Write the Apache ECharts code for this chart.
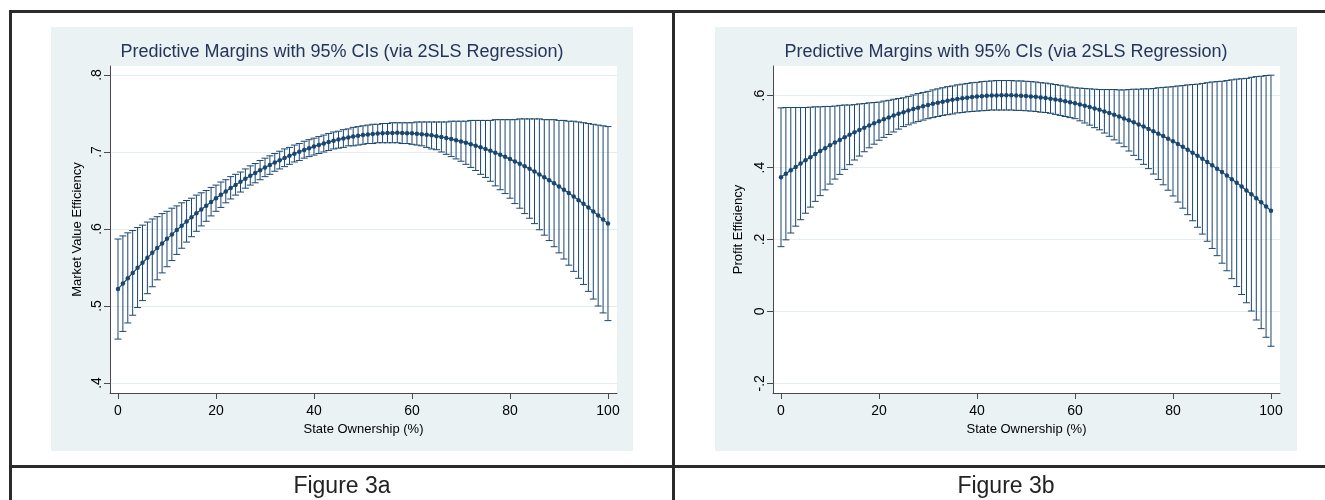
<!DOCTYPE html>
<html>
<head>
<meta charset="utf-8">
<script src="https://cdn.jsdelivr.net/npm/echarts@6/dist/echarts.min.js"></script>
<style>
  html, body { margin: 0; padding: 0; background: #fff; }
  #view { width: 1325px; height: 500px; }
</style>
</head>
<body>
<div id="view"></div>
<script>
var myChart = echarts.init(document.getElementById('view'));

/* state ownership (%) : the 101 points of the margins */
var ownership = [
  0, 1, 2, 3, 4, 5, 6, 7, 8, 9,
  10, 11, 12, 13, 14, 15, 16, 17, 18, 19,
  20, 21, 22, 23, 24, 25, 26, 27, 28, 29,
  30, 31, 32, 33, 34, 35, 36, 37, 38, 39,
  40, 41, 42, 43, 44, 45, 46, 47, 48, 49,
  50, 51, 52, 53, 54, 55, 56, 57, 58, 59,
  60, 61, 62, 63, 64, 65, 66, 67, 68, 69,
  70, 71, 72, 73, 74, 75, 76, 77, 78, 79,
  80, 81, 82, 83, 84, 85, 86, 87, 88, 89,
  90, 91, 92, 93, 94, 95, 96, 97, 98, 99,
  100
];

/* Figure 3a : market value efficiency */
var mveMean = [
  .522, .5291, .536, .5429, .5496, .5562, .5626, .569, .5752, .5812,
  .5872, .593, .5987, .6043, .6098, .6151, .6203, .6253, .6303, .6351,
  .6398, .6444, .6488, .6531, .6573, .6614, .6653, .6691, .6728, .6764,
  .6798, .6831, .6863, .6893, .6923, .6951, .6978, .7003, .7027, .705,
  .7072, .7092, .7112, .713, .7146, .7162, .7176, .7189, .72, .7211,
  .722, .7228, .7234, .724, .7244, .7247, .7248, .7249, .7248, .7245,
  .7242, .7237, .7231, .7224, .7216, .7206, .7195, .7182, .7169, .7154,
  .7138, .7121, .7102, .7082, .7061, .7039, .7015, .699, .6964, .6937,
  .6908, .6878, .6847, .6814, .6781, .6746, .6709, .6672, .6633, .6593,
  .6552, .6509, .6466, .6421, .6374, .6327, .6278, .6228, .6176, .6124,
  .607
];
var mveLow = [
  .457, .467, .478, .488, .498, .507, .516, .525, .534, .543,
  .551, .559, .567, .575, .583, .590, .597, .604, .610, .617,
  .623, .628, .634, .639, .644, .648, .653, .657, .660, .664,
  .668, .671, .675, .678, .681, .684, .687, .689, .692, .694,
  .696, .698, .700, .702, .704, .705, .706, .708, .708, .709,
  .710, .711, .711, .712, .712, .712, .712, .712, .711, .711,
  .710, .709, .708, .706, .704, .703, .700, .697, .694, .691,
  .688, .684, .680, .676, .671, .667, .662, .656, .651, .646,
  .640, .633, .627, .620, .614, .607, .599, .592, .585, .577,
  .569, .561, .553, .545, .536, .528, .519, .509, .500, .491,
  .481
];
var mveHigh = [
  .587, .591, .595, .598, .602, .605, .609, .613, .616, .620,
  .623, .627, .630, .634, .637, .640, .644, .647, .650, .654,
  .657, .661, .664, .668, .671, .674, .678, .682, .685, .689,
  .692, .695, .698, .701, .704, .706, .709, .711, .714, .716,
  .718, .720, .722, .724, .726, .727, .729, .730, .732, .733,
  .734, .735, .736, .736, .737, .737, .738, .738, .738, .738,
  .738, .739, .739, .739, .739, .739, .739, .739, .740, .740,
  .740, .740, .741, .741, .741, .741, .741, .742, .742, .742,
  .742, .742, .743, .743, .743, .743, .743, .742, .742, .742,
  .741, .741, .740, .740, .739, .738, .737, .736, .735, .734,
  .733
];

/* Figure 3b : profit efficiency */
var peMean = [
  .373, .3829, .3925, .4019, .4111, .4201, .4289, .4374, .4458, .4539,
  .4618, .4695, .4769, .4842, .4912, .498, .5046, .511, .5171, .5231,
  .5288, .5343, .5396, .5446, .5495, .5541, .5585, .5627, .5667, .5705,
  .574, .5773, .5804, .5833, .586, .5884, .5907, .5927, .5945, .596,
  .5974, .5985, .5995, .6002, .6007, .6009, .601, .6008, .6004, .5998,
  .599, .598, .5967, .5952, .5935, .5916, .5895, .5871, .5846, .5818,
  .5788, .5756, .5721, .5685, .5646, .5605, .5562, .5517, .5469, .542,
  .5368, .5314, .5258, .5199, .5139, .5076, .5011, .4944, .4875, .4804,
  .473, .4654, .4576, .4496, .4414, .4329, .4243, .4154, .4063, .3969,
  .3874, .3776, .3677, .3575, .3471, .3364, .3256, .3145, .3032, .2917,
  .28
];
var peLow = [
  .180, .199, .218, .237, .255, .273, .290, .306, .322, .338,
  .354, .368, .381, .395, .408, .421, .432, .444, .455, .465,
  .476, .484, .492, .499, .507, .514, .519, .524, .528, .532,
  .536, .539, .542, .545, .547, .549, .552, .553, .555, .556,
  .557, .558, .559, .560, .560, .560, .560, .560, .559, .559,
  .558, .557, .556, .554, .553, .551, .548, .545, .542, .539,
  .536, .530, .524, .518, .511, .505, .496, .487, .477, .468,
  .458, .446, .434, .422, .409, .397, .382, .367, .352, .337,
  .321, .304, .287, .269, .252, .234, .215, .195, .175, .155,
  .134, .113, .091, .069, .047, .024, .001, -.024, -.048, -.072,
  -.097
];
var peHigh = [
  .566, .567, .567, .567, .567, .567, .568, .569, .569, .570,
  .570, .571, .573, .574, .574, .575, .577, .578, .580, .581,
  .582, .585, .587, .590, .592, .594, .598, .602, .606, .609,
  .612, .616, .619, .622, .625, .627, .630, .632, .634, .636,
  .637, .639, .640, .641, .642, .642, .642, .642, .641, .641,
  .640, .639, .638, .636, .635, .633, .631, .629, .627, .624,
  .622, .621, .620, .619, .618, .617, .617, .617, .617, .616,
  .616, .617, .618, .618, .619, .619, .620, .622, .623, .624,
  .625, .627, .628, .630, .631, .632, .634, .636, .638, .639,
  .640, .642, .644, .646, .647, .648, .651, .653, .654, .656,
  .657
];

/* tick labels */
var xTicks = [0, 20, 40, 60, 80, 100];
var mveTicks = [0.4, 0.5, 0.6, 0.7, 0.8];
var peTicks = [-0.2, 0, 0.2, 0.4, 0.6];

var titleText = 'Predictive Margins with 95% CIs (via 2SLS Regression)';
var captions = ['Figure 3a', 'Figure 3b'];

var NAVY = '#1a476f';
var FONT = '"Liberation Sans", Arial, sans-serif';

// Stata style labels: .4, 0, -.2
function stataNum(v) {
    var s = String(+v.toFixed(2));
    return s.replace(/^(-?)0\./, '$1.');
}

function capBars(params, api) {
    var x = api.value(0);
    var p1 = api.coord([x, api.value(1)]);
    var p2 = api.coord([x, api.value(2)]);
    var w = 3.5;
    var st = { stroke: NAVY, lineWidth: 1 };
    return {
        type: 'group',
        children: [
            { type: 'line', shape: { x1: p1[0], y1: p1[1], x2: p2[0], y2: p2[1] }, style: st },
            { type: 'line', shape: { x1: p1[0] - w, y1: p1[1], x2: p1[0] + w, y2: p1[1] }, style: st },
            { type: 'line', shape: { x1: p2[0] - w, y1: p2[1], x2: p2[0] + w, y2: p2[1] }, style: st }
        ]
    };
}

var grids = [], xAxes = [], yAxes = [], series = [];

function addPanel(i, left, yMin, yMax, yTicks, yName, nameGap, mean, low, high) {
    grids.push({
        left: left, top: 66, width: 507, height: 327,
        show: true, backgroundColor: '#fff', borderWidth: 0
    });
    xAxes.push({
        type: 'value', gridIndex: i, min: -1.63, max: 101.84,
        name: 'State Ownership (%)', nameLocation: 'middle', nameGap: 20,
        nameTextStyle: { fontSize: 13, color: '#000', fontFamily: FONT },
        axisLine: { show: true, onZero: false, lineStyle: { color: '#4a4a4a', width: 1 } },
        axisTick: { show: true, length: 6, customValues: xTicks, lineStyle: { color: '#4a4a4a' } },
        axisLabel: { customValues: xTicks, margin: 11, fontSize: 14, color: '#000', fontFamily: FONT },
        splitLine: { show: false }
    });
    yAxes.push({
        type: 'value', gridIndex: i, min: yMin, max: yMax,
        name: yName, nameLocation: 'middle', nameGap: nameGap, nameRotate: 90,
        nameTextStyle: { fontSize: 13, color: '#000', fontFamily: FONT },
        axisLine: { show: true, onZero: false, lineStyle: { color: '#4a4a4a', width: 1 } },
        axisTick: { show: true, length: 6, customValues: yTicks, lineStyle: { color: '#4a4a4a' } },
        axisLabel: {
            customValues: yTicks, rotate: 90, margin: 6, fontSize: 14,
            color: '#000', fontFamily: FONT, formatter: stataNum
        },
        splitLine: { show: true, lineStyle: { color: '#e4eef0', width: 1 } }
    });
    series.push({
        type: 'custom', xAxisIndex: i, yAxisIndex: i,
        renderItem: capBars, clip: false,
        encode: { x: 0, y: [1, 2] },
        data: ownership.map(function (x, k) { return [x, low[k], high[k]]; }),
        z: 2
    });
    series.push({
        type: 'line', xAxisIndex: i, yAxisIndex: i,
        data: ownership.map(function (x, k) { return [x, mean[k]]; }),
        symbol: 'circle', symbolSize: 4.5, showSymbol: true,
        lineStyle: { color: NAVY, width: 1.2 },
        itemStyle: { color: NAVY },
        z: 3
    });
}

addPanel(0, 110, 0.387, 0.8117, mveTicks, 'Market Value Efficiency', 26, mveMean, mveLow, mveHigh);
addPanel(1, 773, -0.227, 0.6825, peTicks, 'Profit Efficiency', 28, peMean, peLow, peHigh);

/* table frame, graph regions, titles and captions */
function label(text, x, y, size, color) {
    return {
        type: 'text', z: 10,
        style: {
            text: text, x: x, y: y, align: 'center', verticalAlign: 'middle',
            textAlign: 'center', textVerticalAlign: 'middle',
            font: size + 'px ' + FONT, fill: color
        }
    };
}
function rule(x1, y1, x2, y2) {
    return { type: 'line', z: 20, shape: { x1: x1, y1: y1, x2: x2, y2: y2 }, style: { stroke: '#2b2b2b', lineWidth: 3 } };
}

var graphics = [
    { type: 'rect', z: -5, shape: { x: 51, y: 27, width: 582, height: 424 }, style: { fill: '#eaf2f3' } },
    { type: 'rect', z: -5, shape: { x: 715, y: 27, width: 582, height: 424 }, style: { fill: '#eaf2f3' } },
    label(titleText, 342, 52, 18, '#24345a'),
    label(titleText, 1006, 52, 18, '#24345a'),
    label(captions[0], 342, 487, 23, '#222'),
    label(captions[1], 1006, 487, 23, '#222'),
    rule(9, 11.5, 1325, 11.5),
    rule(10.5, 10, 10.5, 500),
    rule(673.5, 10, 673.5, 500),
    rule(9, 466.5, 1325, 466.5)
];

option = {
    animation: false,
    backgroundColor: '#fff',
    textStyle: { fontFamily: FONT },
    grid: grids,
    xAxis: xAxes,
    yAxis: yAxes,
    series: series,
    graphic: graphics
};

myChart.setOption(option);
</script>
</body>
</html>
